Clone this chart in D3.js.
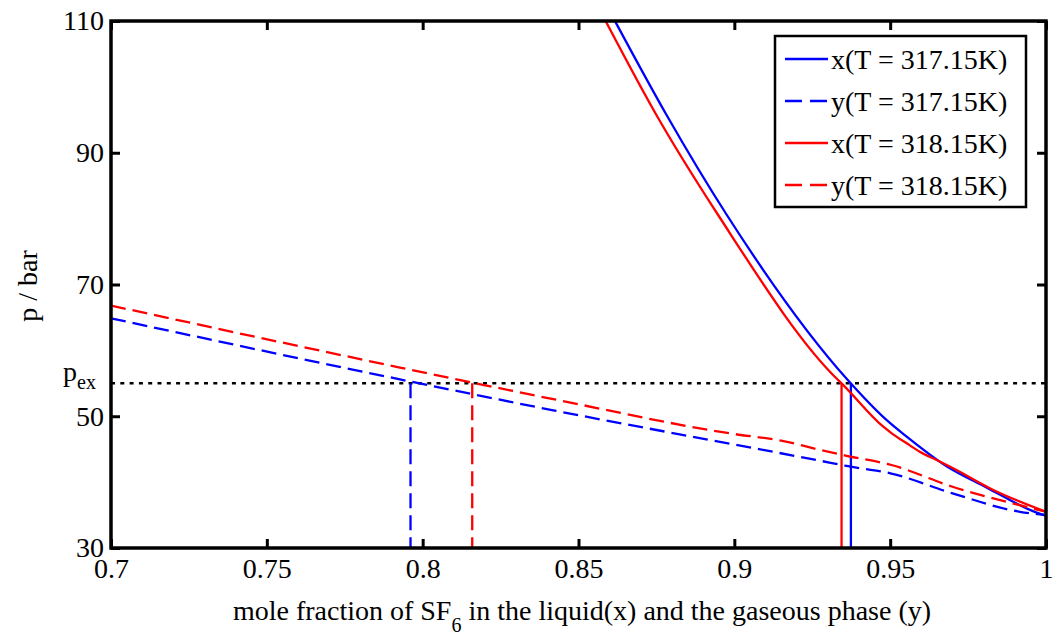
<!DOCTYPE html>
<html>
<head>
<meta charset="utf-8">
<script src="https://cdn.jsdelivr.net/npm/d3@7"></script>
<style>
  body { margin: 0; background: #fff; }
  text { font-family: "Liberation Serif", "DejaVu Serif", serif; fill: #000; }
</style>
</head>
<body>
<div id="chart"></div>
<script>
// VLE of SF6, p over mole fraction //////////////////////////////////////////

var xTicks = [0.7, 0.75, 0.8, 0.85, 0.9, 0.95, 1];
var yTicks = [30, 50, 70, 90, 110];
var pEx = 55;

// liquid phase x, T = 317.15K
var x317 = [0.8617, 0.8783, 0.8976, 0.9364, 0.9489, 0.9553, 0.9681, 0.9809, 0.9958, 1.0];
var px317 = [110, 95.7, 80.55, 55.5, 49.4, 46.9, 42.4, 39.2, 35.6, 34.9];

// gas phase y, T = 317.15K
var y317 = [0.7, 0.7927, 0.8419, 0.9, 0.9275, 0.936, 0.9504, 0.970, 0.9916, 1.0];
var py317 = [64.87, 55.6, 50.9, 45.7, 43.25, 42.45, 41.3, 38.3, 35.5, 35.0];

// liquid phase x, T = 318.15K
var x318 = [0.8587, 0.8750, 0.8948, 0.9333, 0.9344, 0.9478, 0.9505, 0.9553, 0.9595, 0.9649, 0.9702, 0.9831, 1.0];
var px318 = [110, 95.73, 80.55, 55.5, 55.0, 48.41, 47.41, 45.89, 44.62, 43.36, 42.1, 38.8, 35.5];

// gas phase y, T = 318.15K
var y318 = [0.7, 0.7927, 0.8419, 0.9, 0.915, 0.9275, 0.936, 0.9504, 0.970, 0.9916, 1.0];
var py318 = [66.8, 57.4, 52.6, 47.3, 46.3, 44.9, 44.0, 42.6, 39.3, 36.5, 35.5];

// where the y curves and x curves meet p_ex
var yEx317 = 0.7961, yEx318 = 0.8159;
var xEx317 = 0.9374, xEx318 = 0.9344;

var legendLabels = ['x(T = 317.15K)', 'y(T = 317.15K)', 'x(T = 318.15K)', 'y(T = 318.15K)'];

///////////////////////////////////////////////////////////////////////////////

var W = 1052, H = 639;
var mLeft = 111, mTop = 21, mRight = 1046, mBottom = 548;
var tickLen = 9;
var dash = '15,7';
var fontSize = 28;
var lineW = 2.3;

var svg = d3.select('#chart').append('svg')
  .attr('width', W)
  .attr('height', H);

var xScale = d3.scaleLinear().domain([0.7, 1]).range([mLeft, mRight]);
var yScale = d3.scaleLinear().domain([30, 110]).range([mBottom, mTop]);

var line = d3.line()
  .curve(d3.curveMonotoneX)
  .x(function(d){ return xScale(d[0]); })
  .y(function(d){ return yScale(d[1]); });

function zipped(xs, ps) {
  return xs.map(function(v, i){ return [v, ps[i]]; });
}

var series = [
  { pts: zipped(x317, px317), color: '#0000ff', dashed: false },
  { pts: zipped(y317, py317), color: '#0000ff', dashed: true },
  { pts: zipped(x318, px318), color: '#ff0000', dashed: false },
  { pts: zipped(y318, py318), color: '#ff0000', dashed: true }
];

var plot = svg.append('g');

plot.append('defs').append('clipPath').attr('id', 'clip')
  .append('rect')
  .attr('x', mLeft).attr('y', mTop)
  .attr('width', mRight - mLeft).attr('height', mBottom - mTop);

var marks = plot.append('g').attr('clip-path', 'url(#clip)');

// p_ex dotted line
marks.append('line')
  .attr('x1', xScale(0.7)).attr('x2', xScale(1))
  .attr('y1', yScale(pEx)).attr('y2', yScale(pEx))
  .style('stroke', '#000')
  .style('stroke-width', 2.5)
  .style('stroke-dasharray', '4,5.3');

// drop lines from p_ex
var drops = [
  { x: yEx317, color: '#0000ff', dashed: true },
  { x: yEx318, color: '#ff0000', dashed: true },
  { x: xEx318, color: '#ff0000', dashed: false },
  { x: xEx317, color: '#0000ff', dashed: false }
];

marks.selectAll('line.drop')
  .data(drops)
  .enter().append('line')
  .attr('class', 'drop')
  .attr('x1', function(d){ return xScale(d.x); })
  .attr('x2', function(d){ return xScale(d.x); })
  .attr('y1', yScale(pEx))
  .attr('y2', yScale(30))
  .style('stroke', function(d){ return d.color; })
  .style('stroke-width', lineW)
  .style('stroke-dasharray', function(d){ return d.dashed ? dash : null; });

marks.selectAll('path.curve')
  .data(series)
  .enter().append('path')
  .attr('class', 'curve')
  .attr('d', function(d){ return line(d.pts); })
  .style('fill', 'none')
  .style('stroke', function(d){ return d.color; })
  .style('stroke-width', lineW)
  .style('stroke-dasharray', function(d){ return d.dashed ? dash : null; });

// axes with inward ticks on all four sides
var xAxisB = d3.axisBottom(xScale).tickValues(xTicks).tickSizeInner(-tickLen).tickSizeOuter(0)
  .tickFormat(function(d){ return String(d); });
var xAxisT = d3.axisTop(xScale).tickValues(xTicks).tickSizeInner(-tickLen).tickSizeOuter(0).tickFormat('');
var yAxisL = d3.axisLeft(yScale).tickValues(yTicks).tickSizeInner(-tickLen).tickSizeOuter(0);
var yAxisR = d3.axisRight(yScale).tickValues(yTicks).tickSizeInner(-tickLen).tickSizeOuter(0).tickFormat('');

function styleAxis(g) {
  g.select('.domain').remove();
  g.selectAll('.tick line').style('stroke', '#000').style('stroke-width', 3);
  g.selectAll('.tick text')
    .style('font-family', '"Liberation Serif", serif')
    .style('font-size', fontSize + 'px')
    .style('fill', '#000');
}

svg.append('g').attr('transform', 'translate(0,' + mBottom + ')').call(xAxisB).call(styleAxis)
  .selectAll('.tick text').attr('y', 10).attr('dy', '0.71em');
svg.append('g').attr('transform', 'translate(0,' + mTop + ')').call(xAxisT).call(styleAxis);
svg.append('g').attr('transform', 'translate(' + mLeft + ',0)').call(yAxisL).call(styleAxis)
  .selectAll('.tick text').attr('x', -7);
svg.append('g').attr('transform', 'translate(' + mRight + ',0)').call(yAxisR).call(styleAxis);

// frame
svg.append('rect')
  .attr('x', mLeft).attr('y', mTop)
  .attr('width', mRight - mLeft).attr('height', mBottom - mTop)
  .style('fill', 'none')
  .style('stroke', '#000')
  .style('stroke-width', 3.5);

// p_ex label
var pexLabel = svg.append('text')
  .attr('x', 63).attr('y', yScale(pEx) - 2)
  .style('font-size', fontSize + 'px');
pexLabel.append('tspan').text('p');
pexLabel.append('tspan').attr('dy', 8).style('font-size', '20px').text('ex');

// axis titles
var xTitle = svg.append('text')
  .attr('x', 582).attr('y', 620)
  .attr('text-anchor', 'middle')
  .style('font-size', fontSize + 'px');
xTitle.append('tspan').text('mole fraction of SF');
xTitle.append('tspan').attr('dy', 12).style('font-size', '20px').text('6');
xTitle.append('tspan').attr('dy', -12).text(' in the liquid(x) and the gaseous phase (y)');

svg.append('text')
  .attr('transform', 'translate(37,286) rotate(-90)')
  .attr('text-anchor', 'middle')
  .style('font-size', fontSize + 'px')
  .text('p / bar');

// legend
var legend = svg.append('g');
var lgX = 775, lgY = 36, lgW = 251, lgH = 171;
legend.append('rect')
  .attr('x', lgX).attr('y', lgY)
  .attr('width', lgW).attr('height', lgH)
  .style('fill', '#fff')
  .style('stroke', '#000')
  .style('stroke-width', 2.5);

var entry = legend.selectAll('g.entry')
  .data(series)
  .enter().append('g')
  .attr('class', 'entry')
  .attr('transform', function(d, i){ return 'translate(0,' + (59 + i * 42) + ')'; });

entry.append('line')
  .attr('x1', 785).attr('x2', 828)
  .style('stroke', function(d){ return d.color; })
  .style('stroke-width', lineW)
  .style('stroke-dasharray', function(d){ return d.dashed ? '17,8' : null; });

entry.append('text')
  .attr('x', 831).attr('y', 0).attr('dy', '0.35em')
  .style('font-size', fontSize + 'px')
  .text(function(d, i){ return legendLabels[i]; });
</script>
</body>
</html>
